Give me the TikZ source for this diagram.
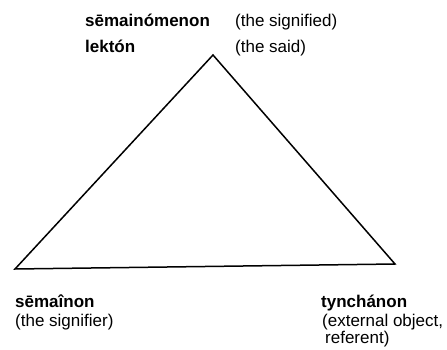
\documentclass[tikz,border=0pt]{standalone}
\usepackage{fontspec}
\setmainfont{Liberation Sans}
\begin{document}
\begin{tikzpicture}[x=1pt,y=1pt,
  lbl/.style={anchor=base west,inner sep=0pt,font=\fontsize{17}{20}\selectfont},
  term/.style={lbl,font=\fontsize{17}{20}\selectfont\bfseries},
  edge/.style={draw=black,line width=1.5pt,line join=miter}]
\useasboundingbox (0,0) rectangle (447,349);
\coordinate (top) at (213,294);
\coordinate (left) at (15,80);
\coordinate (right) at (395,85);
\draw[edge] (top) -- (right) -- (left) -- cycle;
\node[term] (semainomenon) at (85,322) {sēmainómenon};
\node[term] (lekton) at (85,297) {lektón};
\node[lbl] (signified) at (235,322) {(the signified)};
\node[lbl] (said) at (235,297) {(the said)};
\node[term] (semainon) at (15,42) {sēmaînon};
\node[lbl] (signifier) at (15,23) {(the signifier)};
\node[term] (tynchanon) at (321,42) {tynchánon};
\node[lbl] (external) at (322,23) {(external object,};
\node[lbl] (referent) at (325,6) {referent)};
\end{tikzpicture}
\end{document}
